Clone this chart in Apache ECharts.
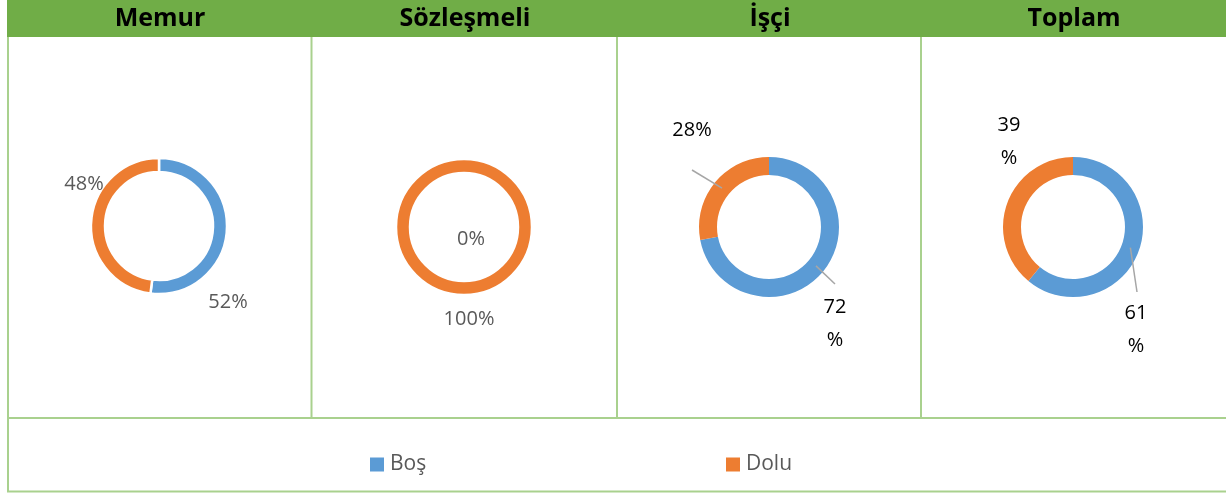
<!DOCTYPE html>
<html lang="tr">
<head>
    <meta charset="UTF-8">
    <title>Kadro Doluluk</title>
    <script src="https://cdn.jsdelivr.net/npm/echarts@6/dist/echarts.min.js"></script>
    <style>
        html,body{
            margin: 0;
            height: 100%;
            background: #fff;
        }
    </style>
</head>
<body>
<div id="main" style="width: 1226px;height: 493px"></div>
<script>
    // veriler
    var categories = ['Boş', 'Dolu'];
    var groups = ['Memur', 'Sözleşmeli', 'İşçi', 'Toplam'];
    var bosValues = [52, 0, 72, 61];
    var doluValues = [48, 100, 28, 39];
    // etiket metinleri (Excel'deki gibi bazıları iki satır)
    var labelTexts = [
        ['52%', '48%'],
        ['0%', '100%'],
        ['72\n%', '28%'],
        ['61\n%', '39\n%']
    ];

    // yerleşim
    var centers = [[159, 226], [464, 227], [769, 227], [1073, 227]];
    var radii = [[54, 68], [54, 68], [52, 70], [52, 70]];
    var borderW = [2.5, 2.5, 0, 0];
    var labelColor = ['#595959', '#595959', '#000000', '#000000'];
    // etiket merkezinin pasta merkezine göre kayması
    var labelOffsets = [
        [[69, 76], [-75, -42]],
        [[7, 12], [5, 92]],
        [[66, 97], [-77, -97]],
        [[63, 103], [-64, -85]]
    ];
    // çizgi bitişi (pasta merkezine göre), null = çizgi yok
    var lineEnds = [
        [null, null],
        [null, null],
        [[66, 57], [-77, -57]],
        [[64, 65], null]
    ];

    var myChart = echarts.init(document.getElementById('main'));

    function pieData(i, withLabel) {
        return categories.map(function (c, k) {
            var d = {name: c, value: k === 0 ? bosValues[i] : doluValues[i]};
            if (withLabel) {
                d.labelLine = {show: !!lineEnds[i][k]};
            }
            return d;
        });
    }

    var series = [];
    // halkalar
    groups.forEach(function (g, i) {
        series.push({
            name: g,
            type: 'pie',
            z: 2,
            center: centers[i],
            radius: radii[i],
            startAngle: 90,
            silent: true,
            itemStyle: {borderColor: '#fff', borderWidth: borderW[i]},
            label: {show: false},
            labelLine: {show: false},
            data: pieData(i, false)
        });
    });
    // etiketler ve çizgiler halkaların üstünde
    groups.forEach(function (g, i) {
        series.push({
            name: g + ' etiket',
            type: 'pie',
            z: 3,
            center: centers[i],
            radius: radii[i],
            startAngle: 90,
            silent: true,
            avoidLabelOverlap: false,
            itemStyle: {color: 'rgba(0,0,0,0)', borderWidth: 0},
            label: {
                show: true,
                formatter: function (p) { return labelTexts[i][p.dataIndex]; },
                fontFamily: 'Open Sans',
                fontSize: 20,
                lineHeight: 33,
                color: labelColor[i],
                align: 'center'
            },
            labelLine: {
                show: true,
                lineStyle: {color: '#a6a6a6', width: 1.5}
            },
            labelLayout: function (params) {
                var k = params.dataIndex;
                var off = labelOffsets[i][k];
                var res = {
                    x: centers[i][0] + off[0],
                    y: centers[i][1] + off[1],
                    align: 'center',
                    verticalAlign: 'middle'
                };
                var le = lineEnds[i][k];
                if (le) {
                    // çizgi: halkanın ortasından etikete doğru
                    var tot = bosValues[i] + doluValues[i];
                    var before = k === 0 ? 0 : bosValues[i];
                    var own = k === 0 ? bosValues[i] : doluValues[i];
                    var mid = (before + own / 2) / tot * Math.PI * 2;
                    var rm = (radii[i][0] + radii[i][1]) / 2;
                    var sx = centers[i][0] + Math.sin(mid) * rm;
                    var sy = centers[i][1] - Math.cos(mid) * rm;
                    var ex = centers[i][0] + le[0], ey = centers[i][1] + le[1];
                    res.labelLinePoints = [[sx, sy], [ex, ey], [ex, ey]];
                }
                return res;
            },
            data: pieData(i, true)
        });
    });

    var lineColor = '#a9d18e';
    var graphics = [
        {type: 'rect', shape: {x: 7, y: 0, width: 1219, height: 37}, style: {fill: '#70ad47'}},
        {type: 'line', shape: {x1: 8, y1: 37, x2: 8, y2: 492}, style: {stroke: lineColor, lineWidth: 2}},
        {type: 'line', shape: {x1: 7, y1: 418, x2: 1226, y2: 418}, style: {stroke: lineColor, lineWidth: 2}},
        {type: 'line', shape: {x1: 7, y1: 491.5, x2: 1226, y2: 491.5}, style: {stroke: lineColor, lineWidth: 2}}
    ];
    [311.5, 617, 921].forEach(function (x) {
        graphics.push({type: 'line', shape: {x1: x, y1: 37, x2: x, y2: 418}, style: {stroke: lineColor, lineWidth: 2}});
    });
    groups.forEach(function (g, i) {
        graphics.push({
            type: 'text', x: centers[i][0] + 1, y: 19,
            style: {text: g, fill: '#000', font: 'bold 25px "Open Sans"', align: 'center', verticalAlign: 'middle'}
        });
    });

    var legendText = {color: '#595959', fontSize: 21, fontFamily: 'Open Sans'};
    var option = {
        animation: false,
        color: ['#5b9bd5', '#ed7d31'],
        graphic: graphics,
        legend: [
            {data: ['Boş'], left: 368, top: 454, padding: 0, icon: 'rect', itemWidth: 16, itemHeight: 16, itemGap: 0, textStyle: legendText, selectedMode: false},
            {data: ['Dolu'], left: 724, top: 454, padding: 0, icon: 'rect', itemWidth: 16, itemHeight: 16, itemGap: 0, textStyle: legendText, selectedMode: false}
        ],
        series: series
    };
    myChart.setOption(option);
</script>
</body>
</html>
